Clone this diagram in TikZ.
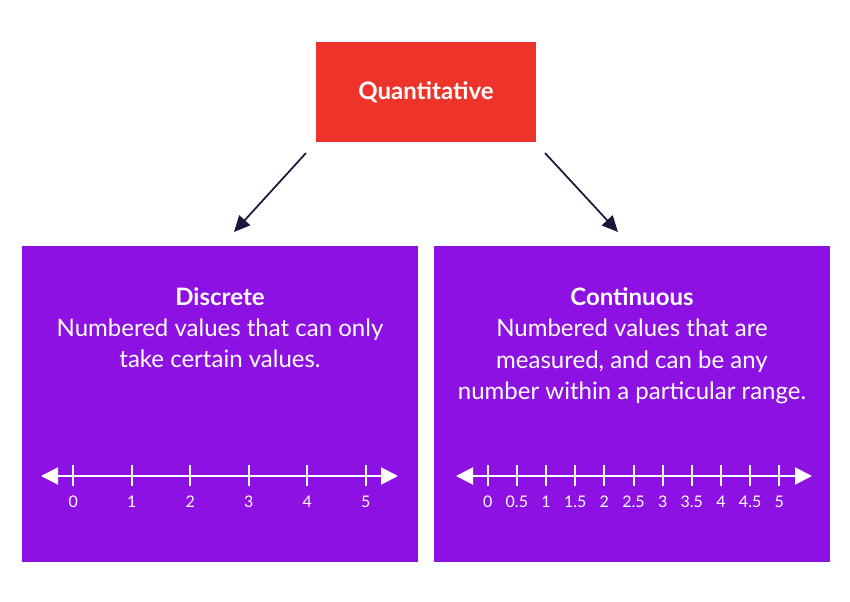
\documentclass[tikz,border=0pt]{standalone}
\usepackage{fontspec}
\setmainfont{Lato}
\usetikzlibrary{arrows.meta}

\definecolor{quantred}{RGB}{238,52,42}
\definecolor{boxpurple}{RGB}{142,17,227}
\definecolor{arrownavy}{RGB}{22,24,56}

\tikzset{
  redbox/.style={fill=quantred, minimum width=165pt, minimum height=75pt, inner sep=0pt, text=white, font=\fontsize{18}{21}\selectfont\bfseries},
  purplebox/.style={fill=boxpurple, minimum width=297pt, minimum height=237pt, inner sep=0pt},
  desc/.style={text=white, align=center, inner sep=0pt, anchor=north, font=\fontsize{18}{23.6}\selectfont},
  flow/.style={draw=arrownavy, line width=1.3pt, -{Triangle[length=12pt,width=11pt]}},
  numline/.style={draw=white, line width=1.5pt, {Triangle[length=12.75pt,width=12.75pt]}-{Triangle[length=12.75pt,width=12.75pt]}},
  tickmark/.style={draw=white, line width=1.5pt},
  ticklabel/.style={text=white, anchor=north, inner sep=0pt, font=\fontsize{12}{14}\selectfont}
}

\begin{document}
\begin{tikzpicture}[x=0.75pt,y=0.75pt,yscale=-1,xscale=1]
\useasboundingbox (0,0) rectangle (850,602);
%Shape: Rectangle [id:quant]
\node[redbox] (quant) at (426,92) {Quantitative};
%Shape: Rectangle [id:discbox]
\node[purplebox] (discbox) at (220,404) {};
%Shape: Rectangle [id:contbox]
\node[purplebox] (contbox) at (632,404) {};
%Straight Lines [id:flowleft]
\coordinate (fl1) at (306,153);
\coordinate (fl2) at (234,232);
\draw[flow] (fl1) -- (fl2);
%Straight Lines [id:flowright]
\coordinate (fr1) at (545,153);
\coordinate (fr2) at (618,232);
\draw[flow] (fr1) -- (fr2);
% Text Node
\node[desc] (disctext) at (220,287) {\textbf{Discrete}\\Numbered values that can only\\take certain values.};
% Text Node
\node[desc] (conttext) at (632,287) {\textbf{Continuous}\\Numbered values that are\\measured, and can be any\\number within a particular range.};
%Number line [id:discline]
\coordinate (dl) at (41,476);
\coordinate (dr) at (398,476);
\draw[numline] (dl) -- (dr);
\foreach \v in {0,...,5}{
  \draw[tickmark] (73.3+58.5*\v,465) -- ++(0,21);
  \node[ticklabel] (dlab\v) at (73.3+58.5*\v,496) {\v};
}
%Number line [id:contline]
\coordinate (cl) at (456,476);
\coordinate (cr) at (812,476);
\draw[numline] (cl) -- (cr);
\foreach \v [count=\i from 0] in {0,0.5,1,1.5,2,2.5,3,3.5,4,4.5,5}{
  \draw[tickmark] (487.7+29.16*\i,465) -- ++(0,21);
  \node[ticklabel] (clab\i) at (487.7+29.16*\i,496) {\v};
}
\end{tikzpicture}
\end{document}
